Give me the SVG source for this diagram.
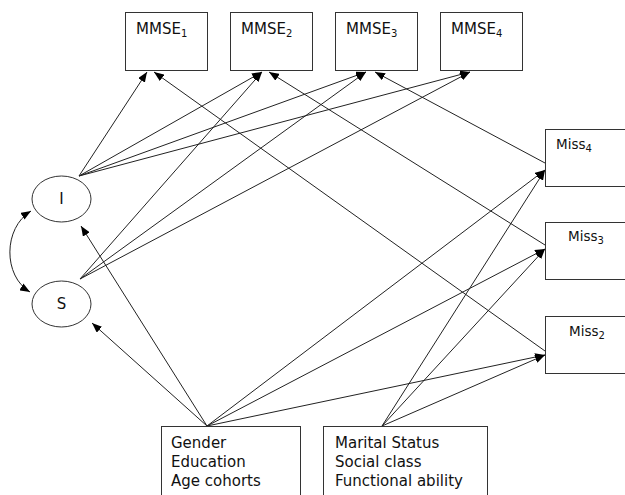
<svg xmlns="http://www.w3.org/2000/svg" width="625" height="495" viewBox="0 0 625 495">
<defs>
<marker id="ah" viewBox="0 0 10 8" refX="10" refY="4" markerWidth="10" markerHeight="8" markerUnits="userSpaceOnUse" orient="auto-start-reverse">
<path d="M0,0 L10,4 L0,8 z" fill="#000"/>
</marker>
<style>
.box{fill:#fff;stroke:#333;stroke-width:1}
.t{font-family:"DejaVu Sans",Verdana,sans-serif;font-size:15px;fill:#111}
.m{font-size:13.5px}
.sub{font-size:10px}
.c line,.c path{stroke:#222;stroke-width:1;fill:none;marker-end:url(#ah)}
</style>
</defs>
<rect width="625" height="495" fill="#fff"/>
<g class="c" id="connectors">
<line x1="79" y1="176" x2="147" y2="72"/>
<line x1="79" y1="176" x2="262" y2="72"/>
<line x1="79" y1="176" x2="366" y2="72"/>
<line x1="79" y1="176" x2="470" y2="72"/>
<line x1="80" y1="279" x2="262" y2="72"/>
<line x1="80" y1="279" x2="366" y2="72"/>
<line x1="80" y1="279" x2="470" y2="72"/>
<line x1="545" y1="351" x2="154" y2="72"/>
<line x1="545" y1="245" x2="269" y2="72"/>
<line x1="545" y1="163" x2="375" y2="72"/>
<line x1="207" y1="426" x2="81" y2="226"/>
<line x1="207" y1="426" x2="92" y2="323"/>
<line x1="207" y1="426" x2="545" y2="170"/>
<line x1="207" y1="426" x2="545" y2="249"/>
<line x1="207" y1="426" x2="545" y2="355"/>
<line x1="382" y1="426" x2="545" y2="170"/>
<line x1="382" y1="426" x2="545" y2="249"/>
<line x1="382" y1="426" x2="545" y2="355"/>
<path d="M31,211 C3,228 3,276 30,292" marker-start="url(#ah)"/>
</g>
<g id="mmse1"><rect class="box" x="125.5" y="12.5" width="82" height="58"/><text class="t" x="136" y="34">MMSE<tspan class="sub" dy="3">1</tspan></text></g>
<g id="mmse2"><rect class="box" x="230.5" y="12.5" width="82" height="58"/><text class="t" x="241" y="34">MMSE<tspan class="sub" dy="3">2</tspan></text></g>
<g id="mmse3"><rect class="box" x="335.5" y="12.5" width="82" height="58"/><text class="t" x="346" y="34">MMSE<tspan class="sub" dy="3">3</tspan></text></g>
<g id="mmse4"><rect class="box" x="440.5" y="12.5" width="82" height="58"/><text class="t" x="451" y="34">MMSE<tspan class="sub" dy="3">4</tspan></text></g>
<g id="I"><ellipse class="box" cx="61.5" cy="199" rx="29.5" ry="23"/><text class="t" x="61.5" y="204" text-anchor="middle">I</text></g>
<g id="S"><ellipse class="box" cx="61.5" cy="304" rx="29.5" ry="23"/><text class="t" x="61.5" y="309" text-anchor="middle">S</text></g>
<g id="miss4"><rect class="box" x="545.5" y="129.5" width="85" height="57"/><text class="t m" x="556" y="149">Miss<tspan class="sub" dy="3">4</tspan></text></g>
<g id="miss3"><rect class="box" x="545.5" y="222.5" width="85" height="57"/><text class="t m" x="568" y="241">Miss<tspan class="sub" dy="3">3</tspan></text></g>
<g id="miss2"><rect class="box" x="545.5" y="316.5" width="85" height="57"/><text class="t m" x="569" y="336">Miss<tspan class="sub" dy="3">2</tspan></text></g>
<g id="demo"><rect class="box" x="161.5" y="426.5" width="139" height="80"/><text class="t" x="171" y="448">Gender</text><text class="t" x="171" y="467">Education</text><text class="t" x="171" y="486">Age cohorts</text></g>
<g id="social"><rect class="box" x="323.5" y="426.5" width="164" height="80"/><text class="t" x="335" y="448">Marital Status</text><text class="t" x="335" y="467">Social class</text><text class="t" x="335" y="486">Functional ability</text></g>
</svg>
